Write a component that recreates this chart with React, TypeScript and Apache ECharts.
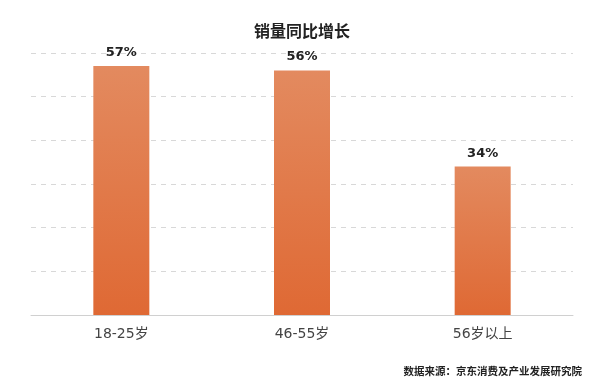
import React, { useEffect, useRef } from "react";
import * as echarts from "echarts";

const categories = ["18-25岁", "46-55岁", "56岁以上"];
const growth = [57, 56, 34];
const titleText = "销量同比增长";
const sourceText = "数据来源：京东消费及产业发展研究院";

export default function App() {
  const ref = useRef<HTMLDivElement>(null);
  useEffect(() => {
    if (!ref.current) return;
    const chart = echarts.init(ref.current, undefined, { renderer: "svg" });
    const cjk = "'Noto Sans CJK SC', 'Noto Sans', sans-serif";
    const num = "'DejaVu Sans', 'Noto Sans CJK SC', sans-serif";
    chart.setOption({
      animation: false,
      title: {
        text: titleText,
        left: "center",
        top: 17,
        textStyle: { fontSize: 16, fontWeight: "bold", color: "#222", fontFamily: cjk },
      },
      graphic: [
        {
          type: "text",
          right: 22,
          top: 365,
          style: { text: sourceText, fontSize: 10.5, fontWeight: "bold", fill: "#222", fontFamily: cjk },
        },
      ],
      grid: { left: 31, right: 31, top: 53, bottom: 76, containLabel: false },
      xAxis: {
        type: "category",
        data: categories,
        axisLine: { lineStyle: { color: "#d0d0d0" } },
        axisTick: { show: false },
        axisLabel: { color: "#444", fontSize: 14, margin: 11, fontFamily: num },
      },
      yAxis: {
        type: "value",
        min: 0,
        max: 60,
        interval: 10,
        axisLabel: { show: false },
        axisLine: { show: false },
        axisTick: { show: false },
        splitLine: { lineStyle: { color: "#d8d8d8", type: [5, 5] } },
      },
      series: [
        {
          type: "bar",
          data: growth,
          barWidth: 56,
          itemStyle: {
            color: new echarts.graphic.LinearGradient(0, 0, 0, 1, [
              { offset: 0, color: "#E38A5F" },
              { offset: 1, color: "#DF6934" },
            ]),
          },
          label: {
            show: true,
            position: "top",
            distance: 8,
            formatter: "{c}%",
            fontSize: 13,
            fontWeight: "bold",
            color: "#222",
            fontFamily: num,
          },
        },
      ],
    });
    return () => chart.dispose();
  }, []);
  return <div ref={ref} style={{ width: 604, height: 391, position: "fixed", left: 0, top: 0 }} />;
}
